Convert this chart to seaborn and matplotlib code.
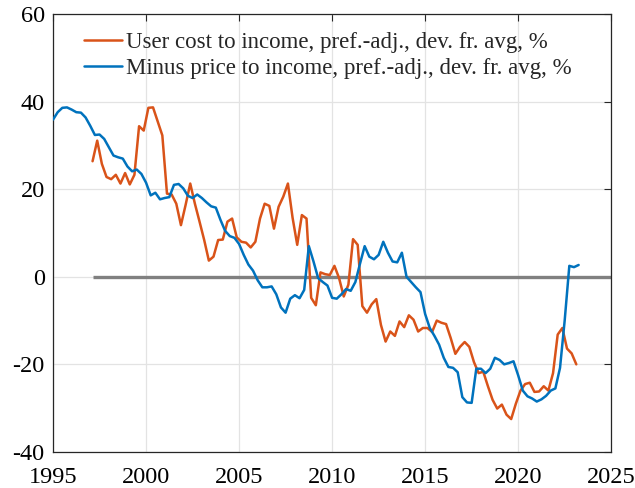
import numpy as np
import pandas as pd
import matplotlib
matplotlib.use("Agg")
import matplotlib.pyplot as plt
import seaborn as sns

# ---- data (quarterly) ----
blue_start = 1995.0
blue_vals = [35.9, 37.6, 38.6, 38.7, 38.2, 37.6, 37.5, 36.4, 34.5, 32.4,
             32.5, 31.5, 29.6, 27.7, 27.3, 27.0, 25.2, 24.1, 24.5, 23.5,
             21.5, 18.6, 19.2, 17.7, 18.0, 18.2, 21.0, 21.2, 20.2, 18.5,
             18.0, 18.8, 18.0, 17.0, 16.1, 15.8, 13.0, 10.5, 9.3, 8.9,
             7.5, 5.0, 2.8, 1.4, -0.8, -2.4, -2.4, -2.2, -4.0, -7.0,
             -8.2, -5.0, -4.2, -4.9, -3.0, 7.0, 3.5, -0.3, -1.2, -2.0,
             -4.8, -5.0, -4.0, -2.8, -3.2, -1.2, 3.0, 7.0, 4.6, 4.0,
             5.0, 8.0, 5.5, 3.5, 3.3, 5.5, 0.0, -1.2, -2.4, -3.5,
             -8.5, -11.7, -13.5, -15.5, -18.5, -20.6, -20.8, -21.8, -27.5, -28.7,
             -28.8, -21.0, -21.0, -22.0, -21.0, -18.5, -19.0, -20.0, -19.7, -19.3,
             -22.5, -26.0, -27.3, -27.8, -28.5, -28.0, -27.2, -26.0, -25.5, -20.8,
             -10.0, 2.5, 2.2, 2.7]

orange_start = 1997.125
orange_vals = [26.4, 31.1, 25.8, 22.8, 22.3, 23.3, 21.3, 23.7, 21.1, 23.3,
               34.4, 33.4, 38.6, 38.7, 35.5, 32.3, 19.0, 18.8, 16.7, 11.8,
               16.4, 21.3, 16.7, 12.6, 8.4, 3.7, 4.6, 8.4, 8.5, 12.6,
               13.3, 9.0, 8.0, 7.8, 6.7, 8.0, 13.3, 16.7, 16.2, 11.0,
               16.0, 18.3, 21.3, 13.5, 7.3, 14.1, 13.3, -4.8, -6.5, 1.0,
               0.6, 0.4, 2.5, -0.3, -4.5, -1.8, 8.6, 7.3, -6.7, -8.2,
               -6.3, -5.1, -11.0, -14.8, -12.5, -13.5, -10.2, -11.5, -8.8, -9.8,
               -12.5, -11.7, -11.7, -12.6, -10.0, -10.5, -10.8, -14.0, -17.6, -16.0,
               -14.9, -16.0, -19.5, -22.0, -21.7, -25.0, -28.1, -30.1, -29.2, -31.5,
               -32.5, -29.0, -26.0, -24.5, -24.2, -26.3, -26.2, -25.0, -26.0, -22.0,
               -13.2, -11.7, -16.4, -17.5, -20.0]

label_orange = "User cost to income, pref.-adj., dev. fr. avg, %"
label_blue = "Minus price to income, pref.-adj., dev. fr. avg, %"
x_ticks = [1995, 2000, 2005, 2010, 2015, 2020, 2025]
y_ticks = [-40, -20, 0, 20, 40, 60]

blue_df = pd.DataFrame({"year": blue_start + 0.25 * np.arange(len(blue_vals)),
                        "value": blue_vals})
orange_df = pd.DataFrame({"year": orange_start + 0.25 * np.arange(len(orange_vals)),
                          "value": orange_vals})

# ---- style ----
sns.set_theme(style="white")
plt.rcParams["font.family"] = ["Liberation Serif", "DejaVu Serif"]
plt.rcParams["axes.unicode_minus"] = False

ORANGE = "#D95319"
BLUE = "#0072BD"

fig = plt.figure(figsize=(6.35, 4.88), dpi=100)
ax = fig.add_axes([0.0835, 0.074, 0.879, 0.897])

ax.hlines(0, orange_df["year"].iloc[0], x_ticks[-1], color="#808080", lw=2.4, zorder=1)
sns.lineplot(data=orange_df, x="year", y="value", ax=ax, color=ORANGE, lw=1.8,
             label=label_orange, zorder=3)
sns.lineplot(data=blue_df, x="year", y="value", ax=ax, color=BLUE, lw=1.8,
             label=label_blue, zorder=3)

ax.set_xlim(x_ticks[0], x_ticks[-1])
ax.set_ylim(y_ticks[0], y_ticks[-1])
ax.set_xticks(x_ticks)
ax.set_yticks(y_ticks)
ax.set_xlabel("")
ax.set_ylabel("")
ax.grid(True, color="#e3e3e3", lw=0.9)
ax.set_axisbelow(True)
for s in ax.spines.values():
    s.set_visible(True)
    s.set_color("#262626")
    s.set_linewidth(0.9)
ax.tick_params(direction="in", length=5, width=0.8, top=True, right=True,
               labelsize=17.5, colors="#262626", labelcolor="black")
ax.tick_params(axis="x", pad=11)
ax.tick_params(axis="y", pad=6)

ax.legend(loc="upper left", frameon=False, fontsize=16.5, handlelength=1.66,
          handletextpad=0.2, labelspacing=0.22, borderaxespad=0.0, borderpad=0.0,
          bbox_to_anchor=(0.055, 0.959))

fig.savefig("out.png", dpi=100)
